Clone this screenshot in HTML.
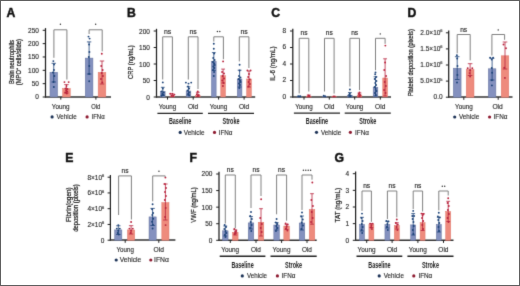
<!DOCTYPE html>
<html><head><meta charset="utf-8"><style>
html,body{margin:0;padding:0;background:#fff;}
body{width:520px;height:286px;overflow:hidden;position:relative;}
svg{position:absolute;left:0;top:0;}
text{font-family:"Liberation Sans", sans-serif;}
</style></head><body>
<svg width="520" height="286" viewBox="0 0 520 286">
<defs><filter id="bl" color-interpolation-filters="sRGB" filterUnits="userSpaceOnUse" x="0" y="0" width="520" height="286"><feConvolveMatrix order="3" kernelMatrix="0.018 0.135 0.018 0.135 1 0.135 0.018 0.135 0.018" divisor="1.612" edgeMode="duplicate" preserveAlpha="true"/></filter><filter id="gs" filterUnits="userSpaceOnUse" x="0" y="0" width="520" height="286"><feColorMatrix type="saturate" values="0"/></filter></defs>
<g filter="url(#bl)">
<rect x="0" y="0" width="520" height="286" fill="#fff"/>
<line x1="45.50" y1="28.10" x2="45.50" y2="97.60" stroke="#1e1e1e" stroke-width="1.25"/>
<line x1="42.70" y1="97.00" x2="45.50" y2="97.00" stroke="#1e1e1e" stroke-width="1.0"/>
<line x1="42.70" y1="83.66" x2="45.50" y2="83.66" stroke="#1e1e1e" stroke-width="1.0"/>
<line x1="42.70" y1="70.32" x2="45.50" y2="70.32" stroke="#1e1e1e" stroke-width="1.0"/>
<line x1="42.70" y1="56.98" x2="45.50" y2="56.98" stroke="#1e1e1e" stroke-width="1.0"/>
<line x1="42.70" y1="43.64" x2="45.50" y2="43.64" stroke="#1e1e1e" stroke-width="1.0"/>
<line x1="42.70" y1="30.30" x2="45.50" y2="30.30" stroke="#1e1e1e" stroke-width="1.0"/>
<line x1="44.90" y1="96.90" x2="111.00" y2="96.90" stroke="#333" stroke-width="1.5"/>
<line x1="60.80" y1="97.00" x2="60.80" y2="99.60" stroke="#1e1e1e" stroke-width="1.0"/>
<line x1="95.90" y1="97.00" x2="95.90" y2="99.60" stroke="#1e1e1e" stroke-width="1.0"/>
<rect x="49.98" y="72.30" width="7.55" height="24.70" fill="#8491bf" stroke="#65739e" stroke-width="0.5"/>
<line x1="53.75" y1="63.30" x2="53.75" y2="82.00" stroke="#1d4378" stroke-width="0.8"/>
<line x1="51.55" y1="63.30" x2="55.95" y2="63.30" stroke="#1d4378" stroke-width="0.8"/>
<line x1="51.55" y1="82.00" x2="55.95" y2="82.00" stroke="#1d4378" stroke-width="0.8"/>
<circle cx="53.35" cy="61.10" r="0.95" fill="#1d4378"/>
<circle cx="54.05" cy="64.50" r="0.95" fill="#1d4378"/>
<circle cx="53.95" cy="70.00" r="0.95" fill="#1d4378"/>
<circle cx="52.95" cy="72.50" r="0.95" fill="#1d4378"/>
<circle cx="54.35" cy="76.00" r="0.95" fill="#1d4378"/>
<circle cx="53.55" cy="82.00" r="0.95" fill="#1d4378"/>
<circle cx="53.85" cy="87.00" r="0.95" fill="#1d4378"/>
<rect x="62.68" y="88.60" width="7.55" height="8.40" fill="#ee8b7d" stroke="#df7569" stroke-width="0.5"/>
<line x1="66.45" y1="84.60" x2="66.45" y2="93.00" stroke="#b8233d" stroke-width="0.8"/>
<line x1="64.25" y1="84.60" x2="68.65" y2="84.60" stroke="#b8233d" stroke-width="0.8"/>
<line x1="64.25" y1="93.00" x2="68.65" y2="93.00" stroke="#b8233d" stroke-width="0.8"/>
<circle cx="64.45" cy="82.10" r="0.95" fill="#b8233d"/>
<circle cx="68.65" cy="82.10" r="0.95" fill="#b8233d"/>
<circle cx="66.45" cy="86.00" r="0.95" fill="#b8233d"/>
<circle cx="65.47" cy="88.50" r="0.95" fill="#b8233d"/>
<circle cx="67.43" cy="89.00" r="0.95" fill="#b8233d"/>
<circle cx="66.12" cy="90.50" r="0.95" fill="#b8233d"/>
<circle cx="67.23" cy="91.50" r="0.95" fill="#b8233d"/>
<circle cx="65.28" cy="92.50" r="0.95" fill="#b8233d"/>
<circle cx="66.84" cy="93.50" r="0.95" fill="#b8233d"/>
<rect x="85.27" y="58.10" width="7.65" height="38.90" fill="#8491bf" stroke="#65739e" stroke-width="0.5"/>
<line x1="89.10" y1="41.90" x2="89.10" y2="74.00" stroke="#1d4378" stroke-width="0.8"/>
<line x1="86.90" y1="41.90" x2="91.30" y2="41.90" stroke="#1d4378" stroke-width="0.8"/>
<line x1="86.90" y1="74.00" x2="91.30" y2="74.00" stroke="#1d4378" stroke-width="0.8"/>
<circle cx="88.50" cy="36.60" r="0.95" fill="#1d4378"/>
<circle cx="89.60" cy="38.60" r="0.95" fill="#1d4378"/>
<circle cx="89.10" cy="44.50" r="0.95" fill="#1d4378"/>
<circle cx="89.40" cy="52.00" r="0.95" fill="#1d4378"/>
<circle cx="88.80" cy="57.00" r="0.95" fill="#1d4378"/>
<circle cx="89.30" cy="66.00" r="0.95" fill="#1d4378"/>
<circle cx="89.10" cy="74.00" r="0.95" fill="#1d4378"/>
<circle cx="89.20" cy="81.20" r="0.95" fill="#1d4378"/>
<rect x="98.17" y="72.40" width="7.65" height="24.60" fill="#ee8b7d" stroke="#df7569" stroke-width="0.5"/>
<line x1="102.00" y1="61.00" x2="102.00" y2="84.00" stroke="#b8233d" stroke-width="0.8"/>
<line x1="99.80" y1="61.00" x2="104.20" y2="61.00" stroke="#b8233d" stroke-width="0.8"/>
<line x1="99.80" y1="84.00" x2="104.20" y2="84.00" stroke="#b8233d" stroke-width="0.8"/>
<circle cx="101.80" cy="53.80" r="0.95" fill="#b8233d"/>
<circle cx="101.22" cy="66.00" r="0.95" fill="#b8233d"/>
<circle cx="102.65" cy="70.00" r="0.95" fill="#b8233d"/>
<circle cx="101.67" cy="73.00" r="0.95" fill="#b8233d"/>
<circle cx="102.91" cy="76.00" r="0.95" fill="#b8233d"/>
<circle cx="100.96" cy="79.00" r="0.95" fill="#b8233d"/>
<circle cx="102.33" cy="82.40" r="0.95" fill="#b8233d"/>
<polyline points="53.90,57.80 53.90,29.80 66.90,29.80 66.90,79.50" fill="none" stroke="#7a7a7a" stroke-width="0.95"/>
<circle cx="60.40" cy="24.30" r="0.72" fill="#2a2a2a"/>
<polyline points="89.10,34.00 89.10,29.80 102.20,29.80 102.20,51.40" fill="none" stroke="#7a7a7a" stroke-width="0.95"/>
<circle cx="95.65" cy="24.30" r="0.72" fill="#2a2a2a"/>
<circle cx="52.10" cy="116.90" r="1.6" fill="#1d3357"/>
<circle cx="87.10" cy="116.90" r="1.6" fill="#8e1a30"/>
<line x1="156.50" y1="28.80" x2="156.50" y2="97.60" stroke="#1e1e1e" stroke-width="1.25"/>
<line x1="153.70" y1="97.00" x2="156.50" y2="97.00" stroke="#1e1e1e" stroke-width="1.0"/>
<line x1="153.70" y1="80.50" x2="156.50" y2="80.50" stroke="#1e1e1e" stroke-width="1.0"/>
<line x1="153.70" y1="64.00" x2="156.50" y2="64.00" stroke="#1e1e1e" stroke-width="1.0"/>
<line x1="153.70" y1="47.50" x2="156.50" y2="47.50" stroke="#1e1e1e" stroke-width="1.0"/>
<line x1="153.70" y1="31.00" x2="156.50" y2="31.00" stroke="#1e1e1e" stroke-width="1.0"/>
<line x1="155.90" y1="96.90" x2="255.20" y2="96.90" stroke="#333" stroke-width="1.5"/>
<line x1="167.50" y1="97.00" x2="167.50" y2="99.60" stroke="#1e1e1e" stroke-width="1.0"/>
<line x1="193.20" y1="97.00" x2="193.20" y2="99.60" stroke="#1e1e1e" stroke-width="1.0"/>
<line x1="218.60" y1="97.00" x2="218.60" y2="99.60" stroke="#1e1e1e" stroke-width="1.0"/>
<line x1="244.10" y1="97.00" x2="244.10" y2="99.60" stroke="#1e1e1e" stroke-width="1.0"/>
<rect x="160.48" y="91.50" width="4.65" height="5.50" fill="#8491bf" stroke="#65739e" stroke-width="0.5"/>
<line x1="162.80" y1="87.30" x2="162.80" y2="95.50" stroke="#1d4378" stroke-width="0.8"/>
<line x1="160.90" y1="87.30" x2="164.70" y2="87.30" stroke="#1d4378" stroke-width="0.8"/>
<line x1="160.90" y1="95.50" x2="164.70" y2="95.50" stroke="#1d4378" stroke-width="0.8"/>
<circle cx="162.80" cy="82.40" r="0.95" fill="#1d4378"/>
<circle cx="162.80" cy="88.50" r="0.95" fill="#1d4378"/>
<circle cx="161.60" cy="91.50" r="0.95" fill="#1d4378"/>
<circle cx="163.80" cy="92.50" r="0.95" fill="#1d4378"/>
<circle cx="162.20" cy="94.00" r="0.95" fill="#1d4378"/>
<circle cx="163.60" cy="95.00" r="0.95" fill="#1d4378"/>
<circle cx="161.60" cy="95.80" r="0.95" fill="#1d4378"/>
<rect x="169.98" y="96.10" width="4.65" height="0.90" fill="#ee8b7d" stroke="#df7569" stroke-width="0.5"/>
<line x1="172.30" y1="94.00" x2="172.30" y2="96.60" stroke="#b8233d" stroke-width="0.8"/>
<line x1="170.40" y1="94.00" x2="174.20" y2="94.00" stroke="#b8233d" stroke-width="0.8"/>
<line x1="170.40" y1="96.60" x2="174.20" y2="96.60" stroke="#b8233d" stroke-width="0.8"/>
<circle cx="170.20" cy="93.80" r="0.95" fill="#b8233d"/>
<circle cx="172.30" cy="93.60" r="0.95" fill="#b8233d"/>
<circle cx="174.40" cy="94.60" r="0.95" fill="#b8233d"/>
<circle cx="171.50" cy="95.60" r="0.95" fill="#b8233d"/>
<circle cx="173.30" cy="95.80" r="0.95" fill="#b8233d"/>
<rect x="186.18" y="91.00" width="4.65" height="6.00" fill="#8491bf" stroke="#65739e" stroke-width="0.5"/>
<line x1="188.50" y1="86.80" x2="188.50" y2="95.00" stroke="#1d4378" stroke-width="0.8"/>
<line x1="186.60" y1="86.80" x2="190.40" y2="86.80" stroke="#1d4378" stroke-width="0.8"/>
<line x1="186.60" y1="95.00" x2="190.40" y2="95.00" stroke="#1d4378" stroke-width="0.8"/>
<circle cx="185.90" cy="82.60" r="0.95" fill="#1d4378"/>
<circle cx="188.50" cy="83.60" r="0.95" fill="#1d4378"/>
<circle cx="191.20" cy="82.60" r="0.95" fill="#1d4378"/>
<circle cx="188.00" cy="86.50" r="0.95" fill="#1d4378"/>
<circle cx="189.10" cy="88.50" r="0.95" fill="#1d4378"/>
<circle cx="187.50" cy="90.50" r="0.95" fill="#1d4378"/>
<circle cx="189.50" cy="92.50" r="0.95" fill="#1d4378"/>
<circle cx="188.10" cy="94.00" r="0.95" fill="#1d4378"/>
<circle cx="189.10" cy="95.50" r="0.95" fill="#1d4378"/>
<rect x="195.48" y="95.50" width="4.65" height="1.50" fill="#ee8b7d" stroke="#df7569" stroke-width="0.5"/>
<line x1="197.80" y1="92.30" x2="197.80" y2="96.50" stroke="#b8233d" stroke-width="0.8"/>
<line x1="195.90" y1="92.30" x2="199.70" y2="92.30" stroke="#b8233d" stroke-width="0.8"/>
<line x1="195.90" y1="96.50" x2="199.70" y2="96.50" stroke="#b8233d" stroke-width="0.8"/>
<circle cx="197.80" cy="91.50" r="0.95" fill="#b8233d"/>
<circle cx="196.80" cy="94.20" r="0.95" fill="#b8233d"/>
<circle cx="198.80" cy="95.00" r="0.95" fill="#b8233d"/>
<circle cx="197.80" cy="96.00" r="0.95" fill="#b8233d"/>
<rect x="211.48" y="61.40" width="4.65" height="35.60" fill="#8491bf" stroke="#65739e" stroke-width="0.5"/>
<line x1="213.80" y1="52.60" x2="213.80" y2="70.50" stroke="#1d4378" stroke-width="0.8"/>
<line x1="211.90" y1="52.60" x2="215.70" y2="52.60" stroke="#1d4378" stroke-width="0.8"/>
<line x1="211.90" y1="70.50" x2="215.70" y2="70.50" stroke="#1d4378" stroke-width="0.8"/>
<circle cx="213.80" cy="43.80" r="0.95" fill="#1d4378"/>
<circle cx="213.80" cy="48.70" r="0.95" fill="#1d4378"/>
<circle cx="214.20" cy="53.50" r="0.95" fill="#1d4378"/>
<circle cx="213.20" cy="58.00" r="0.95" fill="#1d4378"/>
<circle cx="214.60" cy="60.00" r="0.95" fill="#1d4378"/>
<circle cx="212.90" cy="62.00" r="0.95" fill="#1d4378"/>
<circle cx="214.10" cy="63.50" r="0.95" fill="#1d4378"/>
<circle cx="214.70" cy="65.00" r="0.95" fill="#1d4378"/>
<circle cx="213.30" cy="66.50" r="0.95" fill="#1d4378"/>
<circle cx="214.30" cy="68.00" r="0.95" fill="#1d4378"/>
<circle cx="213.00" cy="70.00" r="0.95" fill="#1d4378"/>
<circle cx="214.10" cy="72.00" r="0.95" fill="#1d4378"/>
<circle cx="213.80" cy="76.00" r="0.95" fill="#1d4378"/>
<rect x="220.78" y="75.70" width="4.65" height="21.30" fill="#ee8b7d" stroke="#df7569" stroke-width="0.5"/>
<line x1="223.10" y1="69.10" x2="223.10" y2="83.00" stroke="#b8233d" stroke-width="0.8"/>
<line x1="221.20" y1="69.10" x2="225.00" y2="69.10" stroke="#b8233d" stroke-width="0.8"/>
<line x1="221.20" y1="83.00" x2="225.00" y2="83.00" stroke="#b8233d" stroke-width="0.8"/>
<circle cx="223.10" cy="61.40" r="0.95" fill="#b8233d"/>
<circle cx="222.10" cy="72.00" r="0.95" fill="#b8233d"/>
<circle cx="224.00" cy="73.50" r="0.95" fill="#b8233d"/>
<circle cx="222.60" cy="76.00" r="0.95" fill="#b8233d"/>
<circle cx="224.10" cy="78.50" r="0.95" fill="#b8233d"/>
<circle cx="222.20" cy="80.50" r="0.95" fill="#b8233d"/>
<circle cx="223.50" cy="83.00" r="0.95" fill="#b8233d"/>
<circle cx="222.90" cy="86.00" r="0.95" fill="#b8233d"/>
<rect x="237.28" y="79.00" width="4.65" height="18.00" fill="#8491bf" stroke="#65739e" stroke-width="0.5"/>
<line x1="239.60" y1="70.20" x2="239.60" y2="87.00" stroke="#1d4378" stroke-width="0.8"/>
<line x1="237.70" y1="70.20" x2="241.50" y2="70.20" stroke="#1d4378" stroke-width="0.8"/>
<line x1="237.70" y1="87.00" x2="241.50" y2="87.00" stroke="#1d4378" stroke-width="0.8"/>
<circle cx="239.60" cy="64.70" r="0.95" fill="#1d4378"/>
<circle cx="239.60" cy="70.50" r="0.95" fill="#1d4378"/>
<circle cx="239.00" cy="76.00" r="0.95" fill="#1d4378"/>
<circle cx="240.50" cy="77.50" r="0.95" fill="#1d4378"/>
<circle cx="238.60" cy="79.00" r="0.95" fill="#1d4378"/>
<circle cx="240.10" cy="80.50" r="0.95" fill="#1d4378"/>
<circle cx="240.60" cy="82.00" r="0.95" fill="#1d4378"/>
<circle cx="239.00" cy="83.50" r="0.95" fill="#1d4378"/>
<circle cx="239.90" cy="85.00" r="0.95" fill="#1d4378"/>
<circle cx="239.30" cy="88.00" r="0.95" fill="#1d4378"/>
<rect x="246.68" y="79.00" width="4.65" height="18.00" fill="#ee8b7d" stroke="#df7569" stroke-width="0.5"/>
<line x1="249.00" y1="71.00" x2="249.00" y2="87.00" stroke="#b8233d" stroke-width="0.8"/>
<line x1="247.10" y1="71.00" x2="250.90" y2="71.00" stroke="#b8233d" stroke-width="0.8"/>
<line x1="247.10" y1="87.00" x2="250.90" y2="87.00" stroke="#b8233d" stroke-width="0.8"/>
<circle cx="247.40" cy="70.40" r="0.95" fill="#b8233d"/>
<circle cx="250.60" cy="70.40" r="0.95" fill="#b8233d"/>
<circle cx="249.00" cy="74.00" r="0.95" fill="#b8233d"/>
<circle cx="248.20" cy="77.00" r="0.95" fill="#b8233d"/>
<circle cx="249.80" cy="79.50" r="0.95" fill="#b8233d"/>
<circle cx="248.60" cy="82.00" r="0.95" fill="#b8233d"/>
<circle cx="249.90" cy="84.00" r="0.95" fill="#b8233d"/>
<circle cx="248.40" cy="86.50" r="0.95" fill="#b8233d"/>
<polyline points="162.70,79.50 162.70,36.80 172.40,36.80 172.40,91.50" fill="none" stroke="#7a7a7a" stroke-width="0.95"/>
<polyline points="188.30,79.50 188.30,36.80 198.00,36.80 198.00,89.00" fill="none" stroke="#7a7a7a" stroke-width="0.95"/>
<polyline points="213.80,41.60 213.80,36.80 223.40,36.80 223.40,59.20" fill="none" stroke="#7a7a7a" stroke-width="0.95"/>
<circle cx="217.40" cy="31.50" r="0.72" fill="#2a2a2a"/>
<circle cx="219.80" cy="31.50" r="0.72" fill="#2a2a2a"/>
<polyline points="239.30,61.40 239.30,36.80 248.90,36.80 248.90,68.00" fill="none" stroke="#7a7a7a" stroke-width="0.95"/>
<line x1="157.40" y1="113.30" x2="202.80" y2="113.30" stroke="#222" stroke-width="1.35"/>
<line x1="208.00" y1="113.30" x2="254.00" y2="113.30" stroke="#222" stroke-width="1.35"/>
<circle cx="180.20" cy="132.40" r="1.6" fill="#1d3357"/>
<circle cx="214.50" cy="132.40" r="1.6" fill="#8e1a30"/>
<line x1="292.80" y1="28.80" x2="292.80" y2="97.60" stroke="#1e1e1e" stroke-width="1.25"/>
<line x1="290.00" y1="97.00" x2="292.80" y2="97.00" stroke="#1e1e1e" stroke-width="1.0"/>
<line x1="290.00" y1="80.50" x2="292.80" y2="80.50" stroke="#1e1e1e" stroke-width="1.0"/>
<line x1="290.00" y1="64.00" x2="292.80" y2="64.00" stroke="#1e1e1e" stroke-width="1.0"/>
<line x1="290.00" y1="47.50" x2="292.80" y2="47.50" stroke="#1e1e1e" stroke-width="1.0"/>
<line x1="290.00" y1="31.00" x2="292.80" y2="31.00" stroke="#1e1e1e" stroke-width="1.0"/>
<line x1="292.20" y1="96.90" x2="391.00" y2="96.90" stroke="#333" stroke-width="1.5"/>
<line x1="304.00" y1="97.00" x2="304.00" y2="99.60" stroke="#1e1e1e" stroke-width="1.0"/>
<line x1="329.30" y1="97.00" x2="329.30" y2="99.60" stroke="#1e1e1e" stroke-width="1.0"/>
<line x1="354.70" y1="97.00" x2="354.70" y2="99.60" stroke="#1e1e1e" stroke-width="1.0"/>
<line x1="380.30" y1="97.00" x2="380.30" y2="99.60" stroke="#1e1e1e" stroke-width="1.0"/>
<rect x="296.88" y="96.60" width="4.65" height="0.40" fill="#8491bf" stroke="#65739e" stroke-width="0.5"/>
<circle cx="298.22" cy="96.30" r="0.95" fill="#1d4378"/>
<circle cx="299.53" cy="96.40" r="0.95" fill="#1d4378"/>
<circle cx="300.37" cy="96.20" r="0.95" fill="#1d4378"/>
<rect x="306.48" y="96.20" width="4.65" height="0.80" fill="#ee8b7d" stroke="#df7569" stroke-width="0.5"/>
<line x1="308.80" y1="95.00" x2="308.80" y2="96.80" stroke="#b8233d" stroke-width="0.8"/>
<line x1="306.90" y1="95.00" x2="310.70" y2="95.00" stroke="#b8233d" stroke-width="0.8"/>
<line x1="306.90" y1="96.80" x2="310.70" y2="96.80" stroke="#b8233d" stroke-width="0.8"/>
<circle cx="308.41" cy="95.40" r="0.95" fill="#b8233d"/>
<circle cx="309.32" cy="96.00" r="0.95" fill="#b8233d"/>
<rect x="322.18" y="96.40" width="4.65" height="0.60" fill="#8491bf" stroke="#65739e" stroke-width="0.5"/>
<circle cx="323.72" cy="95.70" r="0.95" fill="#1d4378"/>
<circle cx="325.09" cy="96.30" r="0.95" fill="#1d4378"/>
<rect x="331.78" y="96.60" width="4.65" height="0.40" fill="#ee8b7d" stroke="#df7569" stroke-width="0.5"/>
<circle cx="333.45" cy="96.40" r="0.95" fill="#b8233d"/>
<circle cx="334.75" cy="96.40" r="0.95" fill="#b8233d"/>
<rect x="347.57" y="95.20" width="4.65" height="1.80" fill="#8491bf" stroke="#65739e" stroke-width="0.5"/>
<line x1="349.90" y1="92.60" x2="349.90" y2="96.80" stroke="#1d4378" stroke-width="0.8"/>
<line x1="348.00" y1="92.60" x2="351.80" y2="92.60" stroke="#1d4378" stroke-width="0.8"/>
<line x1="348.00" y1="96.80" x2="351.80" y2="96.80" stroke="#1d4378" stroke-width="0.8"/>
<circle cx="349.90" cy="89.50" r="0.95" fill="#1d4378"/>
<circle cx="349.77" cy="93.80" r="0.95" fill="#1d4378"/>
<circle cx="349.05" cy="95.00" r="0.95" fill="#1d4378"/>
<circle cx="350.68" cy="95.60" r="0.95" fill="#1d4378"/>
<circle cx="350.10" cy="96.20" r="0.95" fill="#1d4378"/>
<rect x="357.18" y="95.00" width="4.65" height="2.00" fill="#ee8b7d" stroke="#df7569" stroke-width="0.5"/>
<line x1="359.50" y1="93.00" x2="359.50" y2="96.80" stroke="#b8233d" stroke-width="0.8"/>
<line x1="357.60" y1="93.00" x2="361.40" y2="93.00" stroke="#b8233d" stroke-width="0.8"/>
<line x1="357.60" y1="96.80" x2="361.40" y2="96.80" stroke="#b8233d" stroke-width="0.8"/>
<circle cx="359.50" cy="92.40" r="0.95" fill="#b8233d"/>
<circle cx="358.72" cy="94.00" r="0.95" fill="#b8233d"/>
<circle cx="360.15" cy="95.00" r="0.95" fill="#b8233d"/>
<circle cx="359.30" cy="96.00" r="0.95" fill="#b8233d"/>
<rect x="373.18" y="87.20" width="4.65" height="9.80" fill="#8491bf" stroke="#65739e" stroke-width="0.5"/>
<line x1="375.50" y1="76.80" x2="375.50" y2="96.00" stroke="#1d4378" stroke-width="0.8"/>
<line x1="373.60" y1="76.80" x2="377.40" y2="76.80" stroke="#1d4378" stroke-width="0.8"/>
<line x1="373.60" y1="96.00" x2="377.40" y2="96.00" stroke="#1d4378" stroke-width="0.8"/>
<circle cx="375.50" cy="72.40" r="0.95" fill="#1d4378"/>
<circle cx="375.17" cy="74.20" r="0.95" fill="#1d4378"/>
<circle cx="376.09" cy="77.00" r="0.95" fill="#1d4378"/>
<circle cx="374.72" cy="79.00" r="0.95" fill="#1d4378"/>
<circle cx="376.41" cy="81.00" r="0.95" fill="#1d4378"/>
<circle cx="375.30" cy="83.00" r="0.95" fill="#1d4378"/>
<circle cx="376.09" cy="85.00" r="0.95" fill="#1d4378"/>
<circle cx="374.59" cy="87.00" r="0.95" fill="#1d4378"/>
<circle cx="375.70" cy="89.00" r="0.95" fill="#1d4378"/>
<circle cx="376.48" cy="91.00" r="0.95" fill="#1d4378"/>
<circle cx="374.98" cy="93.00" r="0.95" fill="#1d4378"/>
<circle cx="375.89" cy="95.00" r="0.95" fill="#1d4378"/>
<rect x="382.78" y="78.00" width="4.65" height="19.00" fill="#ee8b7d" stroke="#df7569" stroke-width="0.5"/>
<line x1="385.10" y1="58.80" x2="385.10" y2="96.00" stroke="#b8233d" stroke-width="0.8"/>
<line x1="383.20" y1="58.80" x2="387.00" y2="58.80" stroke="#b8233d" stroke-width="0.8"/>
<line x1="383.20" y1="96.00" x2="387.00" y2="96.00" stroke="#b8233d" stroke-width="0.8"/>
<circle cx="385.36" cy="45.60" r="0.95" fill="#b8233d"/>
<circle cx="385.10" cy="62.50" r="0.95" fill="#b8233d"/>
<circle cx="384.25" cy="70.00" r="0.95" fill="#b8233d"/>
<circle cx="386.08" cy="76.00" r="0.95" fill="#b8233d"/>
<circle cx="384.71" cy="82.00" r="0.95" fill="#b8233d"/>
<circle cx="385.88" cy="86.00" r="0.95" fill="#b8233d"/>
<circle cx="384.06" cy="90.00" r="0.95" fill="#b8233d"/>
<circle cx="385.55" cy="93.00" r="0.95" fill="#b8233d"/>
<polyline points="299.20,93.40 299.20,38.30 308.80,38.30 308.80,91.50" fill="none" stroke="#7a7a7a" stroke-width="0.95"/>
<polyline points="324.50,91.50 324.50,38.30 334.10,38.30 334.10,93.60" fill="none" stroke="#7a7a7a" stroke-width="0.95"/>
<polyline points="349.90,86.50 349.90,38.30 359.50,38.30 359.50,90.10" fill="none" stroke="#7a7a7a" stroke-width="0.95"/>
<polyline points="375.50,70.20 375.50,38.30 385.10,38.30 385.10,43.80" fill="none" stroke="#7a7a7a" stroke-width="0.95"/>
<circle cx="380.30" cy="33.90" r="0.72" fill="#2a2a2a"/>
<line x1="293.90" y1="113.10" x2="340.00" y2="113.10" stroke="#222" stroke-width="1.35"/>
<line x1="344.70" y1="113.10" x2="390.80" y2="113.10" stroke="#222" stroke-width="1.35"/>
<circle cx="316.50" cy="132.30" r="1.6" fill="#1d3357"/>
<circle cx="350.40" cy="132.30" r="1.6" fill="#8e1a30"/>
<line x1="448.70" y1="30.60" x2="448.70" y2="97.80" stroke="#1e1e1e" stroke-width="1.25"/>
<line x1="445.90" y1="97.20" x2="448.70" y2="97.20" stroke="#1e1e1e" stroke-width="1.0"/>
<line x1="445.90" y1="81.10" x2="448.70" y2="81.10" stroke="#1e1e1e" stroke-width="1.0"/>
<line x1="445.90" y1="65.00" x2="448.70" y2="65.00" stroke="#1e1e1e" stroke-width="1.0"/>
<line x1="445.90" y1="48.90" x2="448.70" y2="48.90" stroke="#1e1e1e" stroke-width="1.0"/>
<line x1="445.90" y1="32.80" x2="448.70" y2="32.80" stroke="#1e1e1e" stroke-width="1.0"/>
<line x1="448.10" y1="97.10" x2="512.50" y2="97.10" stroke="#333" stroke-width="1.5"/>
<line x1="463.80" y1="97.20" x2="463.80" y2="99.80" stroke="#1e1e1e" stroke-width="1.0"/>
<line x1="498.20" y1="97.20" x2="498.20" y2="99.80" stroke="#1e1e1e" stroke-width="1.0"/>
<rect x="453.32" y="68.20" width="7.75" height="29.00" fill="#8491bf" stroke="#65739e" stroke-width="0.5"/>
<line x1="457.20" y1="56.70" x2="457.20" y2="79.50" stroke="#1d4378" stroke-width="0.8"/>
<line x1="454.90" y1="56.70" x2="459.50" y2="56.70" stroke="#1d4378" stroke-width="0.8"/>
<line x1="454.90" y1="79.50" x2="459.50" y2="79.50" stroke="#1d4378" stroke-width="0.8"/>
<circle cx="456.90" cy="55.30" r="0.95" fill="#1d4378"/>
<circle cx="457.20" cy="58.50" r="0.95" fill="#1d4378"/>
<circle cx="457.50" cy="66.00" r="0.95" fill="#1d4378"/>
<circle cx="457.40" cy="74.90" r="0.95" fill="#1d4378"/>
<circle cx="457.00" cy="82.50" r="0.95" fill="#1d4378"/>
<rect x="466.23" y="69.60" width="7.75" height="27.60" fill="#ee8b7d" stroke="#df7569" stroke-width="0.5"/>
<line x1="470.10" y1="63.70" x2="470.10" y2="75.50" stroke="#b8233d" stroke-width="0.8"/>
<line x1="467.80" y1="63.70" x2="472.40" y2="63.70" stroke="#b8233d" stroke-width="0.8"/>
<line x1="467.80" y1="75.50" x2="472.40" y2="75.50" stroke="#b8233d" stroke-width="0.8"/>
<circle cx="467.70" cy="68.20" r="0.95" fill="#b8233d"/>
<circle cx="472.30" cy="68.20" r="0.95" fill="#b8233d"/>
<circle cx="470.10" cy="70.30" r="0.95" fill="#b8233d"/>
<circle cx="469.60" cy="73.10" r="0.95" fill="#b8233d"/>
<circle cx="470.10" cy="76.60" r="0.95" fill="#b8233d"/>
<rect x="488.33" y="68.80" width="7.55" height="28.40" fill="#8491bf" stroke="#65739e" stroke-width="0.5"/>
<line x1="492.10" y1="58.30" x2="492.10" y2="80.00" stroke="#1d4378" stroke-width="0.8"/>
<line x1="489.80" y1="58.30" x2="494.40" y2="58.30" stroke="#1d4378" stroke-width="0.8"/>
<line x1="489.80" y1="80.00" x2="494.40" y2="80.00" stroke="#1d4378" stroke-width="0.8"/>
<circle cx="490.10" cy="57.70" r="0.95" fill="#1d4378"/>
<circle cx="493.10" cy="57.70" r="0.95" fill="#1d4378"/>
<circle cx="491.70" cy="59.60" r="0.95" fill="#1d4378"/>
<circle cx="491.70" cy="68.00" r="0.95" fill="#1d4378"/>
<circle cx="492.10" cy="72.80" r="0.95" fill="#1d4378"/>
<circle cx="491.90" cy="80.30" r="0.95" fill="#1d4378"/>
<circle cx="491.90" cy="85.40" r="0.95" fill="#1d4378"/>
<rect x="501.23" y="55.80" width="7.55" height="41.40" fill="#ee8b7d" stroke="#df7569" stroke-width="0.5"/>
<line x1="505.00" y1="42.00" x2="505.00" y2="69.00" stroke="#b8233d" stroke-width="0.8"/>
<line x1="502.70" y1="42.00" x2="507.30" y2="42.00" stroke="#b8233d" stroke-width="0.8"/>
<line x1="502.70" y1="69.00" x2="507.30" y2="69.00" stroke="#b8233d" stroke-width="0.8"/>
<circle cx="503.50" cy="44.50" r="0.95" fill="#b8233d"/>
<circle cx="506.00" cy="48.30" r="0.95" fill="#b8233d"/>
<circle cx="504.30" cy="67.70" r="0.95" fill="#b8233d"/>
<circle cx="504.90" cy="77.90" r="0.95" fill="#b8233d"/>
<polyline points="457.20,53.30 457.20,34.50 470.20,34.50 470.20,60.40" fill="none" stroke="#7a7a7a" stroke-width="0.95"/>
<polyline points="491.90,55.50 491.90,34.50 504.60,34.50 504.60,39.80" fill="none" stroke="#7a7a7a" stroke-width="0.95"/>
<circle cx="498.25" cy="29.90" r="0.72" fill="#2a2a2a"/>
<circle cx="454.70" cy="117.00" r="1.6" fill="#1d3357"/>
<circle cx="489.60" cy="117.00" r="1.6" fill="#8e1a30"/>
<line x1="110.40" y1="175.00" x2="110.40" y2="240.80" stroke="#1e1e1e" stroke-width="1.25"/>
<line x1="107.60" y1="240.20" x2="110.40" y2="240.20" stroke="#1e1e1e" stroke-width="1.0"/>
<line x1="107.60" y1="224.45" x2="110.40" y2="224.45" stroke="#1e1e1e" stroke-width="1.0"/>
<line x1="107.60" y1="208.70" x2="110.40" y2="208.70" stroke="#1e1e1e" stroke-width="1.0"/>
<line x1="107.60" y1="192.95" x2="110.40" y2="192.95" stroke="#1e1e1e" stroke-width="1.0"/>
<line x1="107.60" y1="177.20" x2="110.40" y2="177.20" stroke="#1e1e1e" stroke-width="1.0"/>
<line x1="109.80" y1="240.10" x2="175.40" y2="240.10" stroke="#333" stroke-width="1.5"/>
<line x1="125.20" y1="240.20" x2="125.20" y2="242.80" stroke="#1e1e1e" stroke-width="1.0"/>
<line x1="158.80" y1="240.20" x2="158.80" y2="242.80" stroke="#1e1e1e" stroke-width="1.0"/>
<rect x="114.72" y="229.90" width="7.15" height="10.30" fill="#8491bf" stroke="#65739e" stroke-width="0.5"/>
<line x1="118.30" y1="225.80" x2="118.30" y2="234.50" stroke="#1d4378" stroke-width="0.8"/>
<line x1="116.10" y1="225.80" x2="120.50" y2="225.80" stroke="#1d4378" stroke-width="0.8"/>
<line x1="116.10" y1="234.50" x2="120.50" y2="234.50" stroke="#1d4378" stroke-width="0.8"/>
<circle cx="118.30" cy="225.10" r="0.95" fill="#1d4378"/>
<circle cx="116.80" cy="228.60" r="0.95" fill="#1d4378"/>
<circle cx="119.80" cy="228.60" r="0.95" fill="#1d4378"/>
<circle cx="118.30" cy="230.80" r="0.95" fill="#1d4378"/>
<circle cx="117.70" cy="233.00" r="0.95" fill="#1d4378"/>
<circle cx="118.80" cy="234.50" r="0.95" fill="#1d4378"/>
<rect x="127.52" y="229.90" width="7.15" height="10.30" fill="#ee8b7d" stroke="#df7569" stroke-width="0.5"/>
<line x1="131.10" y1="225.70" x2="131.10" y2="234.00" stroke="#b8233d" stroke-width="0.8"/>
<line x1="128.90" y1="225.70" x2="133.30" y2="225.70" stroke="#b8233d" stroke-width="0.8"/>
<line x1="128.90" y1="234.00" x2="133.30" y2="234.00" stroke="#b8233d" stroke-width="0.8"/>
<circle cx="131.10" cy="222.00" r="0.95" fill="#b8233d"/>
<circle cx="129.40" cy="228.60" r="0.95" fill="#b8233d"/>
<circle cx="132.80" cy="228.60" r="0.95" fill="#b8233d"/>
<circle cx="131.10" cy="230.80" r="0.95" fill="#b8233d"/>
<circle cx="130.60" cy="233.00" r="0.95" fill="#b8233d"/>
<rect x="149.03" y="216.90" width="7.15" height="23.30" fill="#8491bf" stroke="#65739e" stroke-width="0.5"/>
<line x1="152.60" y1="208.40" x2="152.60" y2="225.50" stroke="#1d4378" stroke-width="0.8"/>
<line x1="150.40" y1="208.40" x2="154.80" y2="208.40" stroke="#1d4378" stroke-width="0.8"/>
<line x1="150.40" y1="225.50" x2="154.80" y2="225.50" stroke="#1d4378" stroke-width="0.8"/>
<circle cx="152.60" cy="204.20" r="0.95" fill="#1d4378"/>
<circle cx="152.10" cy="209.20" r="0.95" fill="#1d4378"/>
<circle cx="153.10" cy="213.00" r="0.95" fill="#1d4378"/>
<circle cx="152.30" cy="215.00" r="0.95" fill="#1d4378"/>
<circle cx="153.20" cy="218.80" r="0.95" fill="#1d4378"/>
<circle cx="152.00" cy="221.70" r="0.95" fill="#1d4378"/>
<circle cx="152.90" cy="224.60" r="0.95" fill="#1d4378"/>
<circle cx="152.60" cy="228.50" r="0.95" fill="#1d4378"/>
<rect x="161.83" y="202.60" width="7.15" height="37.60" fill="#ee8b7d" stroke="#df7569" stroke-width="0.5"/>
<line x1="165.40" y1="184.00" x2="165.40" y2="220.00" stroke="#b8233d" stroke-width="0.8"/>
<line x1="163.20" y1="184.00" x2="167.60" y2="184.00" stroke="#b8233d" stroke-width="0.8"/>
<line x1="163.20" y1="220.00" x2="167.60" y2="220.00" stroke="#b8233d" stroke-width="0.8"/>
<circle cx="165.40" cy="177.60" r="0.95" fill="#b8233d"/>
<circle cx="164.90" cy="184.00" r="0.95" fill="#b8233d"/>
<circle cx="166.00" cy="188.00" r="0.95" fill="#b8233d"/>
<circle cx="165.00" cy="192.00" r="0.95" fill="#b8233d"/>
<circle cx="165.90" cy="196.00" r="0.95" fill="#b8233d"/>
<circle cx="164.80" cy="200.00" r="0.95" fill="#b8233d"/>
<circle cx="165.70" cy="208.00" r="0.95" fill="#b8233d"/>
<circle cx="165.10" cy="217.00" r="0.95" fill="#b8233d"/>
<circle cx="165.60" cy="225.10" r="0.95" fill="#b8233d"/>
<polyline points="118.60,215.00 118.60,175.90 131.40,175.90 131.40,219.50" fill="none" stroke="#7a7a7a" stroke-width="0.95"/>
<polyline points="152.70,201.40 152.70,175.90 165.20,175.90 165.20,176.90" fill="none" stroke="#7a7a7a" stroke-width="0.95"/>
<circle cx="158.95" cy="171.20" r="0.72" fill="#2a2a2a"/>
<circle cx="116.20" cy="260.00" r="1.6" fill="#1d3357"/>
<circle cx="150.80" cy="260.00" r="1.6" fill="#8e1a30"/>
<line x1="219.00" y1="171.80" x2="219.00" y2="240.90" stroke="#1e1e1e" stroke-width="1.25"/>
<line x1="216.20" y1="240.30" x2="219.00" y2="240.30" stroke="#1e1e1e" stroke-width="1.0"/>
<line x1="216.20" y1="223.73" x2="219.00" y2="223.73" stroke="#1e1e1e" stroke-width="1.0"/>
<line x1="216.20" y1="207.15" x2="219.00" y2="207.15" stroke="#1e1e1e" stroke-width="1.0"/>
<line x1="216.20" y1="190.58" x2="219.00" y2="190.58" stroke="#1e1e1e" stroke-width="1.0"/>
<line x1="216.20" y1="174.00" x2="219.00" y2="174.00" stroke="#1e1e1e" stroke-width="1.0"/>
<line x1="218.40" y1="240.20" x2="316.70" y2="240.20" stroke="#333" stroke-width="1.5"/>
<line x1="230.30" y1="240.30" x2="230.30" y2="242.90" stroke="#1e1e1e" stroke-width="1.0"/>
<line x1="256.00" y1="240.30" x2="256.00" y2="242.90" stroke="#1e1e1e" stroke-width="1.0"/>
<line x1="281.60" y1="240.30" x2="281.60" y2="242.90" stroke="#1e1e1e" stroke-width="1.0"/>
<line x1="307.00" y1="240.30" x2="307.00" y2="242.90" stroke="#1e1e1e" stroke-width="1.0"/>
<rect x="222.53" y="230.80" width="5.55" height="9.50" fill="#8491bf" stroke="#65739e" stroke-width="0.5"/>
<line x1="225.30" y1="226.00" x2="225.30" y2="236.00" stroke="#1d4378" stroke-width="0.8"/>
<line x1="223.40" y1="226.00" x2="227.20" y2="226.00" stroke="#1d4378" stroke-width="0.8"/>
<line x1="223.40" y1="236.00" x2="227.20" y2="236.00" stroke="#1d4378" stroke-width="0.8"/>
<circle cx="224.65" cy="225.00" r="0.95" fill="#1d4378"/>
<circle cx="226.08" cy="227.00" r="0.95" fill="#1d4378"/>
<circle cx="224.32" cy="229.00" r="0.95" fill="#1d4378"/>
<circle cx="225.63" cy="231.00" r="0.95" fill="#1d4378"/>
<circle cx="226.34" cy="233.00" r="0.95" fill="#1d4378"/>
<circle cx="224.78" cy="235.00" r="0.95" fill="#1d4378"/>
<circle cx="225.50" cy="237.00" r="0.95" fill="#1d4378"/>
<rect x="232.53" y="232.30" width="5.55" height="8.00" fill="#ee8b7d" stroke="#df7569" stroke-width="0.5"/>
<line x1="235.30" y1="229.80" x2="235.30" y2="235.00" stroke="#b8233d" stroke-width="0.8"/>
<line x1="233.40" y1="229.80" x2="237.20" y2="229.80" stroke="#b8233d" stroke-width="0.8"/>
<line x1="233.40" y1="235.00" x2="237.20" y2="235.00" stroke="#b8233d" stroke-width="0.8"/>
<circle cx="234.32" cy="229.00" r="0.95" fill="#b8233d"/>
<circle cx="236.28" cy="231.00" r="0.95" fill="#b8233d"/>
<circle cx="235.10" cy="232.00" r="0.95" fill="#b8233d"/>
<circle cx="235.95" cy="233.00" r="0.95" fill="#b8233d"/>
<circle cx="234.52" cy="234.00" r="0.95" fill="#b8233d"/>
<rect x="248.22" y="222.90" width="5.55" height="17.40" fill="#8491bf" stroke="#65739e" stroke-width="0.5"/>
<line x1="251.00" y1="216.60" x2="251.00" y2="229.00" stroke="#1d4378" stroke-width="0.8"/>
<line x1="249.10" y1="216.60" x2="252.90" y2="216.60" stroke="#1d4378" stroke-width="0.8"/>
<line x1="249.10" y1="229.00" x2="252.90" y2="229.00" stroke="#1d4378" stroke-width="0.8"/>
<circle cx="251.00" cy="212.00" r="0.95" fill="#1d4378"/>
<circle cx="250.22" cy="216.00" r="0.95" fill="#1d4378"/>
<circle cx="251.85" cy="219.00" r="0.95" fill="#1d4378"/>
<circle cx="250.67" cy="222.00" r="0.95" fill="#1d4378"/>
<circle cx="251.65" cy="225.00" r="0.95" fill="#1d4378"/>
<circle cx="250.02" cy="228.00" r="0.95" fill="#1d4378"/>
<circle cx="251.26" cy="231.00" r="0.95" fill="#1d4378"/>
<rect x="258.23" y="222.30" width="5.55" height="18.00" fill="#ee8b7d" stroke="#df7569" stroke-width="0.5"/>
<line x1="261.00" y1="208.70" x2="261.00" y2="236.00" stroke="#b8233d" stroke-width="0.8"/>
<line x1="259.10" y1="208.70" x2="262.90" y2="208.70" stroke="#b8233d" stroke-width="0.8"/>
<line x1="259.10" y1="236.00" x2="262.90" y2="236.00" stroke="#b8233d" stroke-width="0.8"/>
<circle cx="261.13" cy="199.30" r="0.95" fill="#b8233d"/>
<circle cx="260.22" cy="218.00" r="0.95" fill="#b8233d"/>
<circle cx="261.85" cy="224.00" r="0.95" fill="#b8233d"/>
<circle cx="260.67" cy="228.00" r="0.95" fill="#b8233d"/>
<circle cx="261.65" cy="232.00" r="0.95" fill="#b8233d"/>
<rect x="273.83" y="225.00" width="5.55" height="15.30" fill="#8491bf" stroke="#65739e" stroke-width="0.5"/>
<line x1="276.60" y1="222.50" x2="276.60" y2="230.00" stroke="#1d4378" stroke-width="0.8"/>
<line x1="274.70" y1="222.50" x2="278.50" y2="222.50" stroke="#1d4378" stroke-width="0.8"/>
<line x1="274.70" y1="230.00" x2="278.50" y2="230.00" stroke="#1d4378" stroke-width="0.8"/>
<circle cx="276.60" cy="219.00" r="0.95" fill="#1d4378"/>
<circle cx="275.75" cy="222.50" r="0.95" fill="#1d4378"/>
<circle cx="277.38" cy="224.00" r="0.95" fill="#1d4378"/>
<circle cx="276.34" cy="226.00" r="0.95" fill="#1d4378"/>
<circle cx="277.58" cy="228.00" r="0.95" fill="#1d4378"/>
<circle cx="275.95" cy="231.00" r="0.95" fill="#1d4378"/>
<rect x="283.83" y="226.00" width="5.55" height="14.30" fill="#ee8b7d" stroke="#df7569" stroke-width="0.5"/>
<line x1="286.60" y1="224.30" x2="286.60" y2="229.50" stroke="#b8233d" stroke-width="0.8"/>
<line x1="284.70" y1="224.30" x2="288.50" y2="224.30" stroke="#b8233d" stroke-width="0.8"/>
<line x1="284.70" y1="229.50" x2="288.50" y2="229.50" stroke="#b8233d" stroke-width="0.8"/>
<circle cx="285.62" cy="223.50" r="0.95" fill="#b8233d"/>
<circle cx="287.58" cy="224.50" r="0.95" fill="#b8233d"/>
<circle cx="286.60" cy="226.50" r="0.95" fill="#b8233d"/>
<circle cx="285.95" cy="228.50" r="0.95" fill="#b8233d"/>
<circle cx="287.38" cy="230.50" r="0.95" fill="#b8233d"/>
<rect x="299.23" y="223.00" width="5.55" height="17.30" fill="#8491bf" stroke="#65739e" stroke-width="0.5"/>
<line x1="302.00" y1="216.00" x2="302.00" y2="230.00" stroke="#1d4378" stroke-width="0.8"/>
<line x1="300.10" y1="216.00" x2="303.90" y2="216.00" stroke="#1d4378" stroke-width="0.8"/>
<line x1="300.10" y1="230.00" x2="303.90" y2="230.00" stroke="#1d4378" stroke-width="0.8"/>
<circle cx="302.00" cy="212.50" r="0.95" fill="#1d4378"/>
<circle cx="301.15" cy="216.50" r="0.95" fill="#1d4378"/>
<circle cx="302.78" cy="219.50" r="0.95" fill="#1d4378"/>
<circle cx="301.67" cy="222.50" r="0.95" fill="#1d4378"/>
<circle cx="302.98" cy="225.50" r="0.95" fill="#1d4378"/>
<circle cx="301.35" cy="229.00" r="0.95" fill="#1d4378"/>
<rect x="309.23" y="209.50" width="5.55" height="30.80" fill="#ee8b7d" stroke="#df7569" stroke-width="0.5"/>
<line x1="312.00" y1="193.70" x2="312.00" y2="224.20" stroke="#b8233d" stroke-width="0.8"/>
<line x1="310.10" y1="193.70" x2="313.90" y2="193.70" stroke="#b8233d" stroke-width="0.8"/>
<line x1="310.10" y1="224.20" x2="313.90" y2="224.20" stroke="#b8233d" stroke-width="0.8"/>
<circle cx="312.33" cy="182.50" r="0.95" fill="#b8233d"/>
<circle cx="311.35" cy="200.00" r="0.95" fill="#b8233d"/>
<circle cx="312.91" cy="206.00" r="0.95" fill="#b8233d"/>
<circle cx="311.74" cy="212.00" r="0.95" fill="#b8233d"/>
<circle cx="312.65" cy="218.00" r="0.95" fill="#b8233d"/>
<circle cx="311.02" cy="222.00" r="0.95" fill="#b8233d"/>
<polyline points="225.30,223.50 225.30,175.00 235.30,175.00 235.30,228.20" fill="none" stroke="#7a7a7a" stroke-width="0.95"/>
<polyline points="251.00,208.00 251.00,175.00 261.00,175.00 261.00,196.00" fill="none" stroke="#7a7a7a" stroke-width="0.95"/>
<polyline points="276.60,214.30 276.60,175.00 286.60,175.00 286.60,220.70" fill="none" stroke="#7a7a7a" stroke-width="0.95"/>
<polyline points="302.00,210.00 302.00,175.00 312.00,175.00 312.00,179.70" fill="none" stroke="#7a7a7a" stroke-width="0.95"/>
<circle cx="303.40" cy="170.30" r="0.72" fill="#2a2a2a"/>
<circle cx="305.80" cy="170.30" r="0.72" fill="#2a2a2a"/>
<circle cx="308.20" cy="170.30" r="0.72" fill="#2a2a2a"/>
<circle cx="310.60" cy="170.30" r="0.72" fill="#2a2a2a"/>
<line x1="219.70" y1="256.20" x2="265.40" y2="256.20" stroke="#222" stroke-width="1.35"/>
<line x1="270.50" y1="256.20" x2="316.70" y2="256.20" stroke="#222" stroke-width="1.35"/>
<circle cx="242.30" cy="275.90" r="1.6" fill="#1d3357"/>
<circle cx="277.40" cy="275.90" r="1.6" fill="#8e1a30"/>
<line x1="355.60" y1="171.50" x2="355.60" y2="240.90" stroke="#1e1e1e" stroke-width="1.25"/>
<line x1="352.80" y1="240.30" x2="355.60" y2="240.30" stroke="#1e1e1e" stroke-width="1.0"/>
<line x1="352.80" y1="223.65" x2="355.60" y2="223.65" stroke="#1e1e1e" stroke-width="1.0"/>
<line x1="352.80" y1="207.00" x2="355.60" y2="207.00" stroke="#1e1e1e" stroke-width="1.0"/>
<line x1="352.80" y1="190.35" x2="355.60" y2="190.35" stroke="#1e1e1e" stroke-width="1.0"/>
<line x1="352.80" y1="173.70" x2="355.60" y2="173.70" stroke="#1e1e1e" stroke-width="1.0"/>
<line x1="355.00" y1="240.20" x2="453.50" y2="240.20" stroke="#333" stroke-width="1.5"/>
<line x1="366.70" y1="240.30" x2="366.70" y2="242.90" stroke="#1e1e1e" stroke-width="1.0"/>
<line x1="392.10" y1="240.30" x2="392.10" y2="242.90" stroke="#1e1e1e" stroke-width="1.0"/>
<line x1="417.90" y1="240.30" x2="417.90" y2="242.90" stroke="#1e1e1e" stroke-width="1.0"/>
<line x1="443.50" y1="240.30" x2="443.50" y2="242.90" stroke="#1e1e1e" stroke-width="1.0"/>
<rect x="359.52" y="224.50" width="4.95" height="15.80" fill="#8491bf" stroke="#65739e" stroke-width="0.5"/>
<line x1="362.00" y1="217.30" x2="362.00" y2="231.00" stroke="#1d4378" stroke-width="0.8"/>
<line x1="360.10" y1="217.30" x2="363.90" y2="217.30" stroke="#1d4378" stroke-width="0.8"/>
<line x1="360.10" y1="231.00" x2="363.90" y2="231.00" stroke="#1d4378" stroke-width="0.8"/>
<circle cx="362.00" cy="213.60" r="0.95" fill="#1d4378"/>
<circle cx="361.40" cy="218.00" r="0.95" fill="#1d4378"/>
<circle cx="362.60" cy="221.00" r="0.95" fill="#1d4378"/>
<circle cx="361.70" cy="224.00" r="0.95" fill="#1d4378"/>
<circle cx="362.70" cy="227.00" r="0.95" fill="#1d4378"/>
<circle cx="361.50" cy="230.00" r="0.95" fill="#1d4378"/>
<circle cx="362.20" cy="233.00" r="0.95" fill="#1d4378"/>
<rect x="368.92" y="224.50" width="4.95" height="15.80" fill="#ee8b7d" stroke="#df7569" stroke-width="0.5"/>
<line x1="371.40" y1="223.60" x2="371.40" y2="227.50" stroke="#b8233d" stroke-width="0.8"/>
<line x1="369.50" y1="223.60" x2="373.30" y2="223.60" stroke="#b8233d" stroke-width="0.8"/>
<line x1="369.50" y1="227.50" x2="373.30" y2="227.50" stroke="#b8233d" stroke-width="0.8"/>
<circle cx="370.20" cy="223.60" r="0.95" fill="#b8233d"/>
<circle cx="372.60" cy="223.60" r="0.95" fill="#b8233d"/>
<circle cx="371.40" cy="225.50" r="0.95" fill="#b8233d"/>
<circle cx="370.80" cy="227.50" r="0.95" fill="#b8233d"/>
<circle cx="371.90" cy="229.00" r="0.95" fill="#b8233d"/>
<rect x="384.93" y="224.50" width="4.95" height="15.80" fill="#8491bf" stroke="#65739e" stroke-width="0.5"/>
<line x1="387.40" y1="221.30" x2="387.40" y2="228.00" stroke="#1d4378" stroke-width="0.8"/>
<line x1="385.50" y1="221.30" x2="389.30" y2="221.30" stroke="#1d4378" stroke-width="0.8"/>
<line x1="385.50" y1="228.00" x2="389.30" y2="228.00" stroke="#1d4378" stroke-width="0.8"/>
<circle cx="386.40" cy="221.00" r="0.95" fill="#1d4378"/>
<circle cx="388.40" cy="221.50" r="0.95" fill="#1d4378"/>
<circle cx="387.40" cy="224.00" r="0.95" fill="#1d4378"/>
<circle cx="386.90" cy="227.00" r="0.95" fill="#1d4378"/>
<circle cx="387.80" cy="230.00" r="0.95" fill="#1d4378"/>
<rect x="394.32" y="225.50" width="4.95" height="14.80" fill="#ee8b7d" stroke="#df7569" stroke-width="0.5"/>
<line x1="396.80" y1="222.70" x2="396.80" y2="229.00" stroke="#b8233d" stroke-width="0.8"/>
<line x1="394.90" y1="222.70" x2="398.70" y2="222.70" stroke="#b8233d" stroke-width="0.8"/>
<line x1="394.90" y1="229.00" x2="398.70" y2="229.00" stroke="#b8233d" stroke-width="0.8"/>
<circle cx="396.80" cy="219.50" r="0.95" fill="#b8233d"/>
<circle cx="395.80" cy="223.00" r="0.95" fill="#b8233d"/>
<circle cx="397.80" cy="224.50" r="0.95" fill="#b8233d"/>
<circle cx="396.50" cy="227.00" r="0.95" fill="#b8233d"/>
<circle cx="397.40" cy="230.00" r="0.95" fill="#b8233d"/>
<rect x="410.72" y="224.90" width="4.95" height="15.40" fill="#8491bf" stroke="#65739e" stroke-width="0.5"/>
<line x1="413.20" y1="213.60" x2="413.20" y2="235.00" stroke="#1d4378" stroke-width="0.8"/>
<line x1="411.30" y1="213.60" x2="415.10" y2="213.60" stroke="#1d4378" stroke-width="0.8"/>
<line x1="411.30" y1="235.00" x2="415.10" y2="235.00" stroke="#1d4378" stroke-width="0.8"/>
<circle cx="413.20" cy="210.90" r="0.95" fill="#1d4378"/>
<circle cx="412.30" cy="216.00" r="0.95" fill="#1d4378"/>
<circle cx="414.10" cy="216.00" r="0.95" fill="#1d4378"/>
<circle cx="412.60" cy="219.00" r="0.95" fill="#1d4378"/>
<circle cx="413.50" cy="222.00" r="0.95" fill="#1d4378"/>
<circle cx="413.80" cy="226.00" r="0.95" fill="#1d4378"/>
<circle cx="412.80" cy="230.00" r="0.95" fill="#1d4378"/>
<circle cx="413.40" cy="234.00" r="0.95" fill="#1d4378"/>
<rect x="420.12" y="222.70" width="4.95" height="17.60" fill="#ee8b7d" stroke="#df7569" stroke-width="0.5"/>
<line x1="422.60" y1="213.60" x2="422.60" y2="230.50" stroke="#b8233d" stroke-width="0.8"/>
<line x1="420.70" y1="213.60" x2="424.50" y2="213.60" stroke="#b8233d" stroke-width="0.8"/>
<line x1="420.70" y1="230.50" x2="424.50" y2="230.50" stroke="#b8233d" stroke-width="0.8"/>
<circle cx="421.60" cy="213.60" r="0.95" fill="#b8233d"/>
<circle cx="423.60" cy="214.00" r="0.95" fill="#b8233d"/>
<circle cx="422.60" cy="215.50" r="0.95" fill="#b8233d"/>
<circle cx="422.00" cy="218.00" r="0.95" fill="#b8233d"/>
<circle cx="423.20" cy="221.00" r="0.95" fill="#b8233d"/>
<circle cx="422.30" cy="225.00" r="0.95" fill="#b8233d"/>
<circle cx="423.10" cy="229.00" r="0.95" fill="#b8233d"/>
<rect x="436.32" y="224.50" width="4.95" height="15.80" fill="#8491bf" stroke="#65739e" stroke-width="0.5"/>
<line x1="438.80" y1="217.30" x2="438.80" y2="232.00" stroke="#1d4378" stroke-width="0.8"/>
<line x1="436.90" y1="217.30" x2="440.70" y2="217.30" stroke="#1d4378" stroke-width="0.8"/>
<line x1="436.90" y1="232.00" x2="440.70" y2="232.00" stroke="#1d4378" stroke-width="0.8"/>
<circle cx="438.80" cy="212.70" r="0.95" fill="#1d4378"/>
<circle cx="437.90" cy="216.50" r="0.95" fill="#1d4378"/>
<circle cx="439.70" cy="217.50" r="0.95" fill="#1d4378"/>
<circle cx="438.30" cy="220.00" r="0.95" fill="#1d4378"/>
<circle cx="439.30" cy="223.00" r="0.95" fill="#1d4378"/>
<circle cx="438.50" cy="227.00" r="0.95" fill="#1d4378"/>
<circle cx="439.10" cy="231.00" r="0.95" fill="#1d4378"/>
<rect x="445.72" y="211.50" width="4.95" height="28.80" fill="#ee8b7d" stroke="#df7569" stroke-width="0.5"/>
<line x1="448.20" y1="201.30" x2="448.20" y2="221.50" stroke="#b8233d" stroke-width="0.8"/>
<line x1="446.30" y1="201.30" x2="450.10" y2="201.30" stroke="#b8233d" stroke-width="0.8"/>
<line x1="446.30" y1="221.50" x2="450.10" y2="221.50" stroke="#b8233d" stroke-width="0.8"/>
<circle cx="448.20" cy="198.20" r="0.95" fill="#b8233d"/>
<circle cx="447.60" cy="203.00" r="0.95" fill="#b8233d"/>
<circle cx="448.80" cy="206.00" r="0.95" fill="#b8233d"/>
<circle cx="447.90" cy="210.00" r="0.95" fill="#b8233d"/>
<circle cx="448.90" cy="214.00" r="0.95" fill="#b8233d"/>
<circle cx="447.60" cy="218.00" r="0.95" fill="#b8233d"/>
<circle cx="448.50" cy="222.00" r="0.95" fill="#b8233d"/>
<polyline points="362.00,210.90 362.00,191.00 371.40,191.00 371.40,221.80" fill="none" stroke="#7a7a7a" stroke-width="0.95"/>
<polyline points="387.40,219.00 387.40,191.00 396.80,191.00 396.80,217.30" fill="none" stroke="#7a7a7a" stroke-width="0.95"/>
<polyline points="413.20,209.00 413.20,191.00 422.60,191.00 422.60,211.50" fill="none" stroke="#7a7a7a" stroke-width="0.95"/>
<polyline points="438.80,210.40 438.80,191.00 448.20,191.00 448.20,195.50" fill="none" stroke="#7a7a7a" stroke-width="0.95"/>
<circle cx="442.30" cy="186.30" r="0.72" fill="#2a2a2a"/>
<circle cx="444.70" cy="186.30" r="0.72" fill="#2a2a2a"/>
<line x1="356.50" y1="256.20" x2="402.30" y2="256.20" stroke="#222" stroke-width="1.35"/>
<line x1="407.40" y1="256.20" x2="453.50" y2="256.20" stroke="#222" stroke-width="1.35"/>
<circle cx="379.20" cy="275.90" r="1.6" fill="#1d3357"/>
<circle cx="413.80" cy="275.90" r="1.6" fill="#8e1a30"/>
<g filter="url(#gs)">
<text x="6.60" y="17.00" font-size="12.2" text-anchor="start" font-weight="bold" fill="#111" stroke="#111" stroke-width="0.45">A</text>
<text x="38.90" y="99.35" font-size="6.5" text-anchor="end" font-weight="normal" fill="#2b2b2b" stroke="#2b2b2b" stroke-width="0.14">0</text>
<text x="38.90" y="86.01" font-size="6.5" text-anchor="end" font-weight="normal" fill="#2b2b2b" stroke="#2b2b2b" stroke-width="0.14">50</text>
<text x="38.90" y="72.67" font-size="6.5" text-anchor="end" font-weight="normal" fill="#2b2b2b" stroke="#2b2b2b" stroke-width="0.14">100</text>
<text x="38.90" y="59.33" font-size="6.5" text-anchor="end" font-weight="normal" fill="#2b2b2b" stroke="#2b2b2b" stroke-width="0.14">150</text>
<text x="38.90" y="45.99" font-size="6.5" text-anchor="end" font-weight="normal" fill="#2b2b2b" stroke="#2b2b2b" stroke-width="0.14">200</text>
<text x="38.90" y="32.65" font-size="6.5" text-anchor="end" font-weight="normal" fill="#2b2b2b" stroke="#2b2b2b" stroke-width="0.14">250</text>
<text transform="translate(13.90,62.00) rotate(-90)" font-size="7.2" text-anchor="middle" font-weight="normal" fill="#1a1a1a" textLength="43.8" lengthAdjust="spacingAndGlyphs" stroke="#1a1a1a" stroke-width="0.22">Brain neutrophils</text>
<text transform="translate(20.60,62.20) rotate(-90)" font-size="7.2" text-anchor="middle" font-weight="normal" fill="#1a1a1a" textLength="46.2" lengthAdjust="spacingAndGlyphs" stroke="#1a1a1a" stroke-width="0.22">(MPO<tspan font-size="4.4" dy="-2.4">+</tspan><tspan dy="2.4"> cells/slide)</tspan></text>
<text x="60.60" y="109.10" font-size="6.6" text-anchor="middle" font-weight="normal" fill="#2b2b2b" textLength="17.7" lengthAdjust="spacingAndGlyphs" stroke="#2b2b2b" stroke-width="0.14">Young</text>
<text x="95.70" y="109.10" font-size="6.6" text-anchor="middle" font-weight="normal" fill="#2b2b2b" textLength="9.0" lengthAdjust="spacingAndGlyphs" stroke="#2b2b2b" stroke-width="0.14">Old</text>
<text x="56.50" y="119.30" font-size="6.6" text-anchor="start" font-weight="normal" fill="#2b2b2b" textLength="20.2" lengthAdjust="spacingAndGlyphs" stroke="#2b2b2b" stroke-width="0.14">Vehicle</text>
<text x="91.50" y="119.30" font-size="6.6" text-anchor="start" font-weight="normal" fill="#2b2b2b" textLength="13.1" lengthAdjust="spacingAndGlyphs" stroke="#2b2b2b" stroke-width="0.14">IFN&#945;</text>
<text x="126.90" y="17.20" font-size="12.2" text-anchor="start" font-weight="bold" fill="#111" stroke="#111" stroke-width="0.45">B</text>
<text x="149.90" y="99.75" font-size="6.5" text-anchor="end" font-weight="normal" fill="#2b2b2b" stroke="#2b2b2b" stroke-width="0.14">0</text>
<text x="149.90" y="83.25" font-size="6.5" text-anchor="end" font-weight="normal" fill="#2b2b2b" stroke="#2b2b2b" stroke-width="0.14">50</text>
<text x="149.90" y="66.75" font-size="6.5" text-anchor="end" font-weight="normal" fill="#2b2b2b" stroke="#2b2b2b" stroke-width="0.14">100</text>
<text x="149.90" y="50.25" font-size="6.5" text-anchor="end" font-weight="normal" fill="#2b2b2b" stroke="#2b2b2b" stroke-width="0.14">150</text>
<text x="149.90" y="33.75" font-size="6.5" text-anchor="end" font-weight="normal" fill="#2b2b2b" stroke="#2b2b2b" stroke-width="0.14">200</text>
<text transform="translate(132.60,62.10) rotate(-90)" font-size="7.4" text-anchor="middle" font-weight="normal" fill="#1a1a1a" textLength="33.6" lengthAdjust="spacingAndGlyphs" stroke="#1a1a1a" stroke-width="0.22">CRP (ng/mL)</text>
<text x="167.55" y="33.60" font-size="6.9" text-anchor="middle" font-weight="normal" fill="#222" stroke="#2b2b2b" stroke-width="0.14">ns</text>
<text x="193.15" y="33.60" font-size="6.9" text-anchor="middle" font-weight="normal" fill="#222" stroke="#2b2b2b" stroke-width="0.14">ns</text>
<text x="244.10" y="33.60" font-size="6.9" text-anchor="middle" font-weight="normal" fill="#222" stroke="#2b2b2b" stroke-width="0.14">ns</text>
<text x="167.40" y="108.70" font-size="6.6" text-anchor="middle" font-weight="normal" fill="#2b2b2b" textLength="17.5" lengthAdjust="spacingAndGlyphs" stroke="#2b2b2b" stroke-width="0.14">Young</text>
<text x="193.10" y="108.70" font-size="6.6" text-anchor="middle" font-weight="normal" fill="#2b2b2b" textLength="10.2" lengthAdjust="spacingAndGlyphs" stroke="#2b2b2b" stroke-width="0.14">Old</text>
<text x="218.50" y="108.70" font-size="6.6" text-anchor="middle" font-weight="normal" fill="#2b2b2b" textLength="17.5" lengthAdjust="spacingAndGlyphs" stroke="#2b2b2b" stroke-width="0.14">Young</text>
<text x="244.00" y="108.70" font-size="6.6" text-anchor="middle" font-weight="normal" fill="#2b2b2b" textLength="10.2" lengthAdjust="spacingAndGlyphs" stroke="#2b2b2b" stroke-width="0.14">Old</text>
<text x="180.10" y="124.40" font-size="8.4" text-anchor="middle" font-weight="bold" fill="#222" textLength="22.3" lengthAdjust="spacingAndGlyphs">Baseline</text>
<text x="231.00" y="124.40" font-size="8.4" text-anchor="middle" font-weight="bold" fill="#222" textLength="17.0" lengthAdjust="spacingAndGlyphs">Stroke</text>
<text x="183.80" y="134.80" font-size="6.6" text-anchor="start" font-weight="normal" fill="#2b2b2b" textLength="20.7" lengthAdjust="spacingAndGlyphs" stroke="#2b2b2b" stroke-width="0.14">Vehicle</text>
<text x="218.70" y="134.80" font-size="6.6" text-anchor="start" font-weight="normal" fill="#2b2b2b" textLength="13.8" lengthAdjust="spacingAndGlyphs" stroke="#2b2b2b" stroke-width="0.14">IFN&#945;</text>
<text x="271.20" y="17.20" font-size="12.2" text-anchor="start" font-weight="bold" fill="#111" stroke="#111" stroke-width="0.45">C</text>
<text x="286.20" y="98.75" font-size="6.5" text-anchor="end" font-weight="normal" fill="#2b2b2b" stroke="#2b2b2b" stroke-width="0.14">0</text>
<text x="286.20" y="82.25" font-size="6.5" text-anchor="end" font-weight="normal" fill="#2b2b2b" stroke="#2b2b2b" stroke-width="0.14">2</text>
<text x="286.20" y="65.75" font-size="6.5" text-anchor="end" font-weight="normal" fill="#2b2b2b" stroke="#2b2b2b" stroke-width="0.14">4</text>
<text x="286.20" y="49.25" font-size="6.5" text-anchor="end" font-weight="normal" fill="#2b2b2b" stroke="#2b2b2b" stroke-width="0.14">6</text>
<text x="286.20" y="32.75" font-size="6.5" text-anchor="end" font-weight="normal" fill="#2b2b2b" stroke="#2b2b2b" stroke-width="0.14">8</text>
<text transform="translate(275.00,63.60) rotate(-90)" font-size="7.4" text-anchor="middle" font-weight="normal" fill="#1a1a1a" textLength="34.4" lengthAdjust="spacingAndGlyphs" stroke="#1a1a1a" stroke-width="0.22">IL-6 (ng/mL)</text>
<text x="304.00" y="34.80" font-size="6.6" text-anchor="middle" font-weight="normal" fill="#222" stroke="#2b2b2b" stroke-width="0.14">ns</text>
<text x="329.30" y="34.80" font-size="6.6" text-anchor="middle" font-weight="normal" fill="#222" stroke="#2b2b2b" stroke-width="0.14">ns</text>
<text x="354.70" y="34.80" font-size="6.6" text-anchor="middle" font-weight="normal" fill="#222" stroke="#2b2b2b" stroke-width="0.14">ns</text>
<text x="303.90" y="109.00" font-size="6.6" text-anchor="middle" font-weight="normal" fill="#2b2b2b" textLength="17.5" lengthAdjust="spacingAndGlyphs" stroke="#2b2b2b" stroke-width="0.14">Young</text>
<text x="329.20" y="109.00" font-size="6.6" text-anchor="middle" font-weight="normal" fill="#2b2b2b" textLength="10.2" lengthAdjust="spacingAndGlyphs" stroke="#2b2b2b" stroke-width="0.14">Old</text>
<text x="354.60" y="109.00" font-size="6.6" text-anchor="middle" font-weight="normal" fill="#2b2b2b" textLength="17.5" lengthAdjust="spacingAndGlyphs" stroke="#2b2b2b" stroke-width="0.14">Young</text>
<text x="380.20" y="109.00" font-size="6.6" text-anchor="middle" font-weight="normal" fill="#2b2b2b" textLength="10.2" lengthAdjust="spacingAndGlyphs" stroke="#2b2b2b" stroke-width="0.14">Old</text>
<text x="316.95" y="124.30" font-size="8.4" text-anchor="middle" font-weight="bold" fill="#222" textLength="22.3" lengthAdjust="spacingAndGlyphs">Baseline</text>
<text x="367.75" y="124.30" font-size="8.4" text-anchor="middle" font-weight="bold" fill="#222" textLength="17.0" lengthAdjust="spacingAndGlyphs">Stroke</text>
<text x="321.00" y="134.70" font-size="6.6" text-anchor="start" font-weight="normal" fill="#2b2b2b" textLength="20.2" lengthAdjust="spacingAndGlyphs" stroke="#2b2b2b" stroke-width="0.14">Vehicle</text>
<text x="355.00" y="134.70" font-size="6.6" text-anchor="start" font-weight="normal" fill="#2b2b2b" textLength="13.9" lengthAdjust="spacingAndGlyphs" stroke="#2b2b2b" stroke-width="0.14">IFN&#945;</text>
<text x="407.40" y="17.00" font-size="12.2" text-anchor="start" font-weight="bold" fill="#111" stroke="#111" stroke-width="0.45">D</text>
<text x="442.60" y="99.05" font-size="6.5" text-anchor="end" font-weight="normal" fill="#2b2b2b" stroke="#2b2b2b" stroke-width="0.14">0.0</text>
<text x="442.60" y="82.95" font-size="6.5" text-anchor="end" font-weight="normal" fill="#2b2b2b" stroke="#2b2b2b" stroke-width="0.14">5.0&#215;10<tspan font-size="4" dy="-2.4">5</tspan></text>
<text x="442.60" y="66.85" font-size="6.5" text-anchor="end" font-weight="normal" fill="#2b2b2b" stroke="#2b2b2b" stroke-width="0.14">1.0&#215;10<tspan font-size="4" dy="-2.4">6</tspan></text>
<text x="442.60" y="50.75" font-size="6.5" text-anchor="end" font-weight="normal" fill="#2b2b2b" stroke="#2b2b2b" stroke-width="0.14">1.5&#215;10<tspan font-size="4" dy="-2.4">6</tspan></text>
<text x="442.60" y="34.65" font-size="6.5" text-anchor="end" font-weight="normal" fill="#2b2b2b" stroke="#2b2b2b" stroke-width="0.14">2.0&#215;10<tspan font-size="4" dy="-2.4">6</tspan></text>
<text transform="translate(413.20,62.70) rotate(-90)" font-size="7.4" text-anchor="middle" font-weight="normal" fill="#1a1a1a" textLength="67.2" lengthAdjust="spacingAndGlyphs" stroke="#1a1a1a" stroke-width="0.22">Platelet deposition (pixels)</text>
<text x="463.70" y="31.50" font-size="6.6" text-anchor="middle" font-weight="normal" fill="#222" stroke="#2b2b2b" stroke-width="0.14">ns</text>
<text x="463.90" y="109.00" font-size="6.6" text-anchor="middle" font-weight="normal" fill="#2b2b2b" textLength="17.7" lengthAdjust="spacingAndGlyphs" stroke="#2b2b2b" stroke-width="0.14">Young</text>
<text x="497.60" y="109.00" font-size="6.6" text-anchor="middle" font-weight="normal" fill="#2b2b2b" textLength="10.4" lengthAdjust="spacingAndGlyphs" stroke="#2b2b2b" stroke-width="0.14">Old</text>
<text x="458.90" y="119.40" font-size="6.6" text-anchor="start" font-weight="normal" fill="#2b2b2b" textLength="20.3" lengthAdjust="spacingAndGlyphs" stroke="#2b2b2b" stroke-width="0.14">Vehicle</text>
<text x="493.50" y="119.40" font-size="6.6" text-anchor="start" font-weight="normal" fill="#2b2b2b" textLength="13.9" lengthAdjust="spacingAndGlyphs" stroke="#2b2b2b" stroke-width="0.14">IFN&#945;</text>
<text x="65.30" y="162.20" font-size="12.2" text-anchor="start" font-weight="bold" fill="#111" stroke="#111" stroke-width="0.45">E</text>
<text x="104.30" y="242.55" font-size="6.5" text-anchor="end" font-weight="normal" fill="#2b2b2b" stroke="#2b2b2b" stroke-width="0.14">0</text>
<text x="104.30" y="226.80" font-size="6.5" text-anchor="end" font-weight="normal" fill="#2b2b2b" stroke="#2b2b2b" stroke-width="0.14">2&#215;10<tspan font-size="4" dy="-2.4">6</tspan></text>
<text x="104.30" y="211.05" font-size="6.5" text-anchor="end" font-weight="normal" fill="#2b2b2b" stroke="#2b2b2b" stroke-width="0.14">4&#215;10<tspan font-size="4" dy="-2.4">6</tspan></text>
<text x="104.30" y="195.30" font-size="6.5" text-anchor="end" font-weight="normal" fill="#2b2b2b" stroke="#2b2b2b" stroke-width="0.14">6&#215;10<tspan font-size="4" dy="-2.4">6</tspan></text>
<text x="104.30" y="179.55" font-size="6.5" text-anchor="end" font-weight="normal" fill="#2b2b2b" stroke="#2b2b2b" stroke-width="0.14">8&#215;10<tspan font-size="4" dy="-2.4">6</tspan></text>
<text transform="translate(70.53,204.60) rotate(-90)" font-size="6.6" text-anchor="middle" font-weight="normal" fill="#1a1a1a" textLength="34.6" lengthAdjust="spacingAndGlyphs" stroke="#1a1a1a" stroke-width="0.22">Fibrin(ogen)</text>
<text transform="translate(78.43,208.00) rotate(-90)" font-size="6.6" text-anchor="middle" font-weight="normal" fill="#1a1a1a" textLength="47.6" lengthAdjust="spacingAndGlyphs" stroke="#1a1a1a" stroke-width="0.22">deposition (pixels)</text>
<text x="125.00" y="172.70" font-size="6.6" text-anchor="middle" font-weight="normal" fill="#222" stroke="#2b2b2b" stroke-width="0.14">ns</text>
<text x="125.20" y="252.00" font-size="6.6" text-anchor="middle" font-weight="normal" fill="#2b2b2b" textLength="17.3" lengthAdjust="spacingAndGlyphs" stroke="#2b2b2b" stroke-width="0.14">Young</text>
<text x="158.80" y="252.00" font-size="6.6" text-anchor="middle" font-weight="normal" fill="#2b2b2b" textLength="10.4" lengthAdjust="spacingAndGlyphs" stroke="#2b2b2b" stroke-width="0.14">Old</text>
<text x="119.80" y="262.40" font-size="6.6" text-anchor="start" font-weight="normal" fill="#2b2b2b" textLength="21.4" lengthAdjust="spacingAndGlyphs" stroke="#2b2b2b" stroke-width="0.14">Vehicle</text>
<text x="154.00" y="262.40" font-size="6.6" text-anchor="start" font-weight="normal" fill="#2b2b2b" textLength="14.8" lengthAdjust="spacingAndGlyphs" stroke="#2b2b2b" stroke-width="0.14">IFN&#945;</text>
<text x="189.40" y="162.20" font-size="12.2" text-anchor="start" font-weight="bold" fill="#111" stroke="#111" stroke-width="0.45">F</text>
<text x="212.40" y="242.65" font-size="6.5" text-anchor="end" font-weight="normal" fill="#2b2b2b" stroke="#2b2b2b" stroke-width="0.14">0</text>
<text x="212.40" y="226.08" font-size="6.5" text-anchor="end" font-weight="normal" fill="#2b2b2b" stroke="#2b2b2b" stroke-width="0.14">50</text>
<text x="212.40" y="209.50" font-size="6.5" text-anchor="end" font-weight="normal" fill="#2b2b2b" stroke="#2b2b2b" stroke-width="0.14">100</text>
<text x="212.40" y="192.93" font-size="6.5" text-anchor="end" font-weight="normal" fill="#2b2b2b" stroke="#2b2b2b" stroke-width="0.14">150</text>
<text x="212.40" y="176.35" font-size="6.5" text-anchor="end" font-weight="normal" fill="#2b2b2b" stroke="#2b2b2b" stroke-width="0.14">200</text>
<text transform="translate(195.90,205.00) rotate(-90)" font-size="7.4" text-anchor="middle" font-weight="normal" fill="#1a1a1a" textLength="35.4" lengthAdjust="spacingAndGlyphs" stroke="#1a1a1a" stroke-width="0.22">VWF (ng/mL)</text>
<text x="230.30" y="171.50" font-size="6.6" text-anchor="middle" font-weight="normal" fill="#222" stroke="#2b2b2b" stroke-width="0.14">ns</text>
<text x="256.00" y="171.50" font-size="6.6" text-anchor="middle" font-weight="normal" fill="#222" stroke="#2b2b2b" stroke-width="0.14">ns</text>
<text x="281.60" y="171.50" font-size="6.6" text-anchor="middle" font-weight="normal" fill="#222" stroke="#2b2b2b" stroke-width="0.14">ns</text>
<text x="230.20" y="252.40" font-size="6.6" text-anchor="middle" font-weight="normal" fill="#2b2b2b" textLength="17.9" lengthAdjust="spacingAndGlyphs" stroke="#2b2b2b" stroke-width="0.14">Young</text>
<text x="255.90" y="252.40" font-size="6.6" text-anchor="middle" font-weight="normal" fill="#2b2b2b" textLength="10.0" lengthAdjust="spacingAndGlyphs" stroke="#2b2b2b" stroke-width="0.14">Old</text>
<text x="281.50" y="252.40" font-size="6.6" text-anchor="middle" font-weight="normal" fill="#2b2b2b" textLength="17.9" lengthAdjust="spacingAndGlyphs" stroke="#2b2b2b" stroke-width="0.14">Young</text>
<text x="306.90" y="252.40" font-size="6.6" text-anchor="middle" font-weight="normal" fill="#2b2b2b" textLength="10.0" lengthAdjust="spacingAndGlyphs" stroke="#2b2b2b" stroke-width="0.14">Old</text>
<text x="242.55" y="267.50" font-size="8.4" text-anchor="middle" font-weight="bold" fill="#222" textLength="22.3" lengthAdjust="spacingAndGlyphs">Baseline</text>
<text x="293.60" y="267.50" font-size="8.4" text-anchor="middle" font-weight="bold" fill="#222" textLength="17.0" lengthAdjust="spacingAndGlyphs">Stroke</text>
<text x="247.00" y="278.30" font-size="6.6" text-anchor="start" font-weight="normal" fill="#2b2b2b" textLength="20.0" lengthAdjust="spacingAndGlyphs" stroke="#2b2b2b" stroke-width="0.14">Vehicle</text>
<text x="281.60" y="278.30" font-size="6.6" text-anchor="start" font-weight="normal" fill="#2b2b2b" textLength="13.8" lengthAdjust="spacingAndGlyphs" stroke="#2b2b2b" stroke-width="0.14">IFN&#945;</text>
<text x="334.40" y="162.20" font-size="12.2" text-anchor="start" font-weight="bold" fill="#111" stroke="#111" stroke-width="0.45">G</text>
<text x="349.00" y="242.65" font-size="6.5" text-anchor="end" font-weight="normal" fill="#2b2b2b" stroke="#2b2b2b" stroke-width="0.14">0</text>
<text x="349.00" y="226.00" font-size="6.5" text-anchor="end" font-weight="normal" fill="#2b2b2b" stroke="#2b2b2b" stroke-width="0.14">1</text>
<text x="349.00" y="209.35" font-size="6.5" text-anchor="end" font-weight="normal" fill="#2b2b2b" stroke="#2b2b2b" stroke-width="0.14">2</text>
<text x="349.00" y="192.70" font-size="6.5" text-anchor="end" font-weight="normal" fill="#2b2b2b" stroke="#2b2b2b" stroke-width="0.14">3</text>
<text x="349.00" y="176.05" font-size="6.5" text-anchor="end" font-weight="normal" fill="#2b2b2b" stroke="#2b2b2b" stroke-width="0.14">4</text>
<text transform="translate(339.50,205.20) rotate(-90)" font-size="7.4" text-anchor="middle" font-weight="normal" fill="#1a1a1a" textLength="34.4" lengthAdjust="spacingAndGlyphs" stroke="#1a1a1a" stroke-width="0.22">TAT (ng/mL)</text>
<text x="366.70" y="187.90" font-size="6.6" text-anchor="middle" font-weight="normal" fill="#222" stroke="#2b2b2b" stroke-width="0.14">ns</text>
<text x="392.10" y="187.90" font-size="6.6" text-anchor="middle" font-weight="normal" fill="#222" stroke="#2b2b2b" stroke-width="0.14">ns</text>
<text x="417.90" y="187.90" font-size="6.6" text-anchor="middle" font-weight="normal" fill="#222" stroke="#2b2b2b" stroke-width="0.14">ns</text>
<text x="366.60" y="252.40" font-size="6.6" text-anchor="middle" font-weight="normal" fill="#2b2b2b" textLength="18.0" lengthAdjust="spacingAndGlyphs" stroke="#2b2b2b" stroke-width="0.14">Young</text>
<text x="392.00" y="252.40" font-size="6.6" text-anchor="middle" font-weight="normal" fill="#2b2b2b" textLength="10.2" lengthAdjust="spacingAndGlyphs" stroke="#2b2b2b" stroke-width="0.14">Old</text>
<text x="417.80" y="252.40" font-size="6.6" text-anchor="middle" font-weight="normal" fill="#2b2b2b" textLength="18.0" lengthAdjust="spacingAndGlyphs" stroke="#2b2b2b" stroke-width="0.14">Young</text>
<text x="443.40" y="252.40" font-size="6.6" text-anchor="middle" font-weight="normal" fill="#2b2b2b" textLength="10.2" lengthAdjust="spacingAndGlyphs" stroke="#2b2b2b" stroke-width="0.14">Old</text>
<text x="379.40" y="267.50" font-size="8.4" text-anchor="middle" font-weight="bold" fill="#222" textLength="22.3" lengthAdjust="spacingAndGlyphs">Baseline</text>
<text x="430.45" y="267.50" font-size="8.4" text-anchor="middle" font-weight="bold" fill="#222" textLength="17.0" lengthAdjust="spacingAndGlyphs">Stroke</text>
<text x="383.80" y="278.30" font-size="6.6" text-anchor="start" font-weight="normal" fill="#2b2b2b" textLength="20.1" lengthAdjust="spacingAndGlyphs" stroke="#2b2b2b" stroke-width="0.14">Vehicle</text>
<text x="418.40" y="278.30" font-size="6.6" text-anchor="start" font-weight="normal" fill="#2b2b2b" textLength="13.9" lengthAdjust="spacingAndGlyphs" stroke="#2b2b2b" stroke-width="0.14">IFN&#945;</text>
</g>
</g>
<rect x="0.5" y="0.5" width="519" height="285" fill="none" stroke="#5e5e5e" stroke-width="1"/>
</svg>
</body></html>
